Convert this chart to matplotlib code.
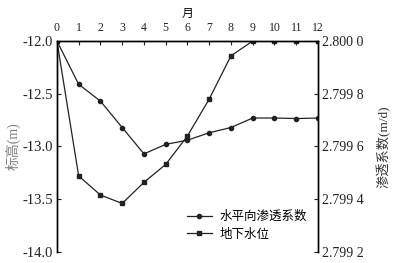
import matplotlib.pyplot as plt
from matplotlib.ticker import FuncFormatter

plt.rcParams['font.family'] = ['Liberation Serif', 'Noto Sans CJK SC']

months = list(range(13))
# 地下水位 (m), left axis
water_level = [-12.0, -13.28, -13.46, -13.54, -13.34, -13.17, -12.90,
               -12.55, -12.14, -12.0, -12.0, -12.0, -12.0]
# 水平向渗透系数 (m/d), right axis
perm = [2.80000, 2.799836, 2.799772, 2.799672, 2.799572, 2.799608, 2.799624,
        2.799652, 2.799672, 2.799708, 2.799708, 2.799706, 2.799708]

fig = plt.figure(figsize=(3.98, 2.63), dpi=100)
ax = fig.add_axes([0.143, 0.042, 0.656, 0.802])
ax2 = ax.twinx()

l2, = ax.plot(months, water_level, color='#222222', lw=0.9, marker='s', ms=3.5,
              label='地下水位')
l1, = ax2.plot(months, perm, color='#222222', lw=0.9, marker='o', ms=3,
               label='水平向渗透系数')

ax.set_xlim(0, 12)
ax.set_ylim(-14.0, -12.0)
ax2.set_ylim(2.7992, 2.8000)
ax.set_xticks(months)
ax.set_yticks([-14.0, -13.5, -13.0, -12.5, -12.0])
ax.yaxis.set_major_formatter(FuncFormatter(lambda v, p: f'{v:.1f}'))
ax2.set_yticks([2.7992, 2.7994, 2.7996, 2.7998, 2.8000])


def fmt_r(v, p):
    s = f'{v:.4f}'
    return s[:-1] + ' ' + s[-1]


ax2.yaxis.set_major_formatter(FuncFormatter(fmt_r))

ax.xaxis.tick_top()
ax.xaxis.set_label_position('top')
for a in (ax, ax2):
    a.spines['bottom'].set_visible(False)
    a.spines['top'].set_linewidth(1.0)
    a.spines['left'].set_linewidth(1.0)
    a.spines['right'].set_linewidth(1.0)
ax.tick_params(axis='x', direction='in', length=3, pad=5, labelsize=8.5, colors='#222222')
ax.tick_params(axis='y', direction='in', length=3, pad=3, labelsize=10.5, colors='#222222')
ax2.tick_params(axis='y', direction='in', length=3, pad=3, labelsize=10, colors='#222222')

ax.set_xlabel('月', fontsize=8.5, labelpad=4)
ax.set_ylabel('标高(m)', fontsize=10, color='#808080', labelpad=1)
ax2.set_ylabel('渗透系数(m/d)', fontsize=9.5, color='#333333', labelpad=9)

leg = ax.legend([l1, l2], ['水平向渗透系数', '地下水位'], loc='lower right',
                bbox_to_anchor=(1.0, 0.0), frameon=False, fontsize=9,
                handlelength=2.0, handletextpad=0.6, labelspacing=0.45)

fig.savefig('out.png', dpi=100)
plt.close(fig)
